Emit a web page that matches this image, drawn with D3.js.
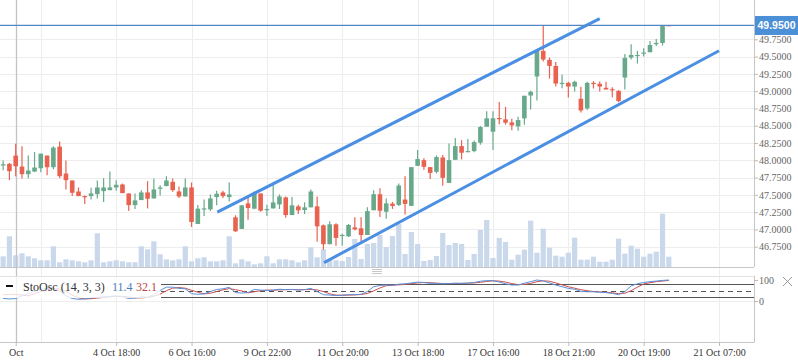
<!DOCTYPE html>
<html>
<head>
<meta charset="utf-8">
<script src="https://d3js.org/d3.v7.min.js"></script>
<style>
  body { margin: 0; background: #fff; }
  svg { display: block; }
  .axis text { font-family: "Liberation Serif", serif; font-size: 10px; }
</style>
</head>
<body>
<div id="chart"></div>
<script>
// candle data (index based, left to right)
var opens = [47.94,47.948,48.068,47.909,47.799,47.837,47.885,48.068,47.9,48.197,
  47.808,47.708,47.549,47.482,47.482,47.511,47.554,47.568,47.607,47.65,
  47.52,47.352,47.424,47.535,47.448,47.588,47.626,47.688,47.549,47.477,
  47.607,47.079,47.295,47.29,47.468,47.535,47.468,47.175,47.007,47.376,
  47.3,47.52,47.292,47.304,47.362,47.463,47.208,47.333,47.28,47.319,
  47.333,47.06,46.786,47.074,46.917,46.9,47.03,47.016,46.919,47.277,
  47.509,47.256,47.373,47.354,47.432,47.34,47.92,48.002,47.901,47.833,
  48.041,47.673,48.007,48.205,48.123,48.133,48.254,48.486,48.413,48.612,
  48.592,48.548,48.49,48.606,48.937,49.212,49.582,49.452,49.365,49.11,
  49.12,49.067,48.89,48.75,49.12,49.106,49.048,49.029,49.005,49.197,
  49.486,49.514,49.543,49.563,49.683,49.697,49.955];
var highs = [47.996,47.962,48.24,48.202,48.068,48.12,48.096,48.068,48.202,48.27,
  47.996,47.708,47.607,47.492,47.602,47.708,47.741,47.837,47.712,47.664,
  47.52,47.52,47.568,47.698,47.736,47.64,47.77,47.736,47.621,47.736,
  47.679,47.352,47.434,47.506,47.559,47.559,47.679,47.204,47.348,47.472,
  47.549,47.52,47.357,47.655,47.506,47.477,47.468,47.357,47.391,47.578,
  47.477,47.07,47.117,47.088,46.938,47.079,47.175,47.175,47.32,47.567,
  47.596,47.446,47.398,47.664,47.77,47.901,48.147,48.031,47.901,48.07,
  48.075,48.244,48.321,48.292,48.307,48.287,48.495,48.708,48.708,48.844,
  48.771,48.601,48.63,48.933,49.005,49.601,49.95,49.486,49.423,49.236,
  49.135,49.149,49.062,49.135,49.144,49.14,49.135,49.058,49.014,49.538,
  49.678,49.582,49.62,49.726,49.755,49.95,49.955];
var lows = [47.856,47.712,47.77,47.736,47.741,47.828,47.828,47.784,47.871,47.741,
  47.578,47.482,47.482,47.367,47.434,47.448,47.396,47.568,47.559,47.525,
  47.266,47.295,47.424,47.304,47.448,47.492,47.626,47.544,47.453,47.477,
  47.036,47.079,47.194,47.266,47.348,47.453,47.405,46.964,47.007,47.141,
  47.29,47.256,47.194,47.304,47.295,47.17,47.208,47.223,47.223,47.319,
  46.82,46.704,46.786,46.762,46.764,46.89,46.987,46.827,46.919,47.277,
  47.18,47.156,47.296,47.34,47.214,47.34,47.92,47.862,47.731,47.809,
  47.63,47.673,48.007,48.012,48.123,48.118,48.225,48.486,48.147,48.52,
  48.514,48.433,48.428,48.514,48.736,48.865,49.428,49.183,49.067,49.043,
  48.909,48.995,48.692,48.726,49.038,48.995,49.024,48.913,48.841,49.024,
  49.457,49.399,49.5,49.563,49.654,49.659,49.95];
var closes = [47.942,47.842,47.914,47.799,47.852,47.895,48.096,47.9,48.183,47.77,
  47.712,47.53,47.482,47.468,47.52,47.607,47.607,47.607,47.645,47.525,
  47.352,47.42,47.535,47.444,47.578,47.607,47.708,47.568,47.477,47.607,
  47.108,47.3,47.304,47.448,47.516,47.482,47.506,46.973,47.348,47.309,
  47.53,47.271,47.295,47.391,47.477,47.208,47.348,47.276,47.319,47.549,
  47.045,46.786,47.074,46.877,46.921,47.064,47.0,46.919,47.265,47.509,
  47.27,47.377,47.34,47.635,47.369,47.901,48.017,47.905,47.818,48.046,
  47.746,48.002,48.205,48.109,48.133,48.263,48.481,48.607,48.607,48.602,
  48.544,48.505,48.582,48.933,48.99,49.582,49.457,49.365,49.11,49.12,
  49.067,49.135,48.721,49.12,49.11,49.067,49.024,49.014,48.856,49.481,
  49.524,49.524,49.558,49.668,49.697,49.942,49.95];
var volumes = [1070,3070,1170,1370,1070,870,670,670,2070,470,
  770,670,570,470,670,3370,470,570,670,570,
  470,470,2070,1770,2570,1270,770,670,770,2070,
  570,870,970,570,570,670,3070,370,770,570,
  270,370,1070,370,770,770,670,470,670,1970,
  970,1770,670,670,600,1000,2800,800,2300,2400,
  3200,2000,3100,4330,1300,3500,2300,600,700,1100,
  3400,2200,2400,2300,700,1300,3700,4700,900,2900,
  2500,730,1230,1730,4630,1430,3830,1930,1130,1030,
  1430,2930,730,730,1030,530,530,730,2830,1330,
  2130,1830,1030,1330,1530,5330,1030];
// stochastic oscillator %K and %D
var stochK = [12,10,11.4,25,35,45,55,60,62,48,
  25,12,8,10,14,18,20,22,24,20,
  12,14,20,18,30,50,66,66,60,58,
  35,32,34,45,55,58,65,40,38,40,
  55,52,50,52,56,54,55,52,54,60,
  45,30,28,26,28,30,30,32,45,68,
  74,76,75,80,82,86,90,88,84,84,
  82,83,85,84,85,88,94,97,97,90,
  82,76,76,85,92,100,96,86,76,68,
  60,56,46,44,44,42,40,36,30,45,
  72,82,88,92,95,98,100];
var stochD = [30,31,32.1,28,24,35,45,53,59,57,
  45,28,15,10,11,14,17,20,22,22,
  19,15,15,17,23,33,49,61,64,61,
  51,42,34,37,45,53,59,54,48,39,
  44,49,52,51,53,54,55,54,54,55,
  53,45,34,28,27,28,29,31,36,48,
  62,73,75,77,79,83,86,88,87,85,
  83,83,83,84,85,86,89,93,96,95,
  90,83,78,79,84,92,96,94,86,77,
  68,61,54,49,45,43,42,39,35,37,
  49,66,81,87,92,95,98];

var priceTicks = [46.75,47.0,47.25,47.5,47.75,48.0,48.25,48.5,48.75,49.0,49.25,49.5,49.75];
var timeTickIdx = [2,18,30,42,54,66,78,90,102,114];
var timeTickLabels = ["Oct","4 Oct 18:00","6 Oct 16:00","9 Oct 22:00","11 Oct 20:00",
  "13 Oct 18:00","17 Oct 16:00","18 Oct 21:00","20 Oct 19:00","21 Oct 07:00"];
var gridIdx = [6,18,30,42,54,66,78,90,102,114];
var lastPrice = 49.95;
var crossIdx = 2;
var legendK = 11.4, legendD = 32.1;
// drawn trend lines [index, price]
var upperTrend = [[34.1, 47.25],[95.0, 50.05]];
var lowerTrend = [[51.1, 46.52],[114.0, 49.585]];

var W = 798, H = 363, plotR = 754;
var mainBottom = 267, oscTop = 276, oscBottom = 342;

var svg = d3.select("#chart").append("svg").attr("width", W).attr("height", H);

var x = d3.scaleLinear().domain([-0.5, 119.5]).range([0, 753.6]);
var y = d3.scaleLinear().domain([46.75, 49.75]).range([246.7, 39.3]);
var yv = d3.scaleLinear().domain([0, 6000]).range([mainBottom, mainBottom - 60]);
var yo = d3.scaleLinear().domain([0, 100]).range([301, 280]);

// grid
svg.append("g").selectAll("line").data(priceTicks).enter().append("line")
  .attr("x1", 0).attr("x2", plotR)
  .attr("y1", function(d){ return Math.round(y(d)) + 0.5; })
  .attr("y2", function(d){ return Math.round(y(d)) + 0.5; })
  .attr("stroke", "#ededed");
svg.append("g").selectAll("line").data(gridIdx).enter().append("line")
  .attr("x1", function(d){ return Math.round(x(d)) + 0.5; })
  .attr("x2", function(d){ return Math.round(x(d)) + 0.5; })
  .attr("y1", 0).attr("y2", oscBottom)
  .attr("stroke", "#ededed");
svg.append("line")
  .attr("x1", 0).attr("x2", plotR)
  .attr("y1", Math.round(yo(0)) + 0.5).attr("y2", Math.round(yo(0)) + 0.5)
  .attr("stroke", "#ededed");

// volume
var idx = d3.range(opens.length);
svg.append("g").selectAll("rect").data(idx).enter().append("rect")
  .attr("x", function(i){ return x(i) - 2.6; })
  .attr("width", 5.2)
  .attr("y", function(i){ return yv(volumes[i]); })
  .attr("height", function(i){ return mainBottom - yv(volumes[i]); })
  .attr("fill", "#cad8eb");

// crosshair-like month line
svg.append("line")
  .attr("x1", Math.round(x(crossIdx)) + 0.5).attr("x2", Math.round(x(crossIdx)) + 0.5)
  .attr("y1", 0).attr("y2", oscBottom)
  .attr("stroke", "#c4c4c4").attr("stroke-width", 1.3);

// candles
var green = "#68a98b", red = "#e9614f";
function col(i){ return closes[i] >= opens[i] ? green : red; }
var candles = svg.append("g");
candles.selectAll("line").data(idx).enter().append("line")
  .attr("x1", function(i){ return x(i); }).attr("x2", function(i){ return x(i); })
  .attr("y1", function(i){ return y(highs[i]); })
  .attr("y2", function(i){ return y(lows[i]); })
  .attr("stroke", col).attr("stroke-width", 1.2);
candles.selectAll("rect").data(idx).enter().append("rect")
  .attr("x", function(i){ return x(i) - 2.3; })
  .attr("width", 4.6)
  .attr("y", function(i){ return y(Math.max(opens[i], closes[i])); })
  .attr("height", function(i){ return Math.max(1.2, Math.abs(y(opens[i]) - y(closes[i]))); })
  .attr("fill", col);

// trend lines
[upperTrend, lowerTrend].forEach(function(t){
  svg.append("line")
    .attr("x1", x(t[0][0])).attr("y1", y(t[0][1]))
    .attr("x2", x(t[1][0])).attr("y2", y(t[1][1]))
    .attr("stroke", "#4a8fe3").attr("stroke-width", 3);
});

// last price line
svg.append("line")
  .attr("x1", 0).attr("x2", plotR)
  .attr("y1", y(lastPrice)).attr("y2", y(lastPrice))
  .attr("stroke", "#5089c6").attr("stroke-width", 1.2);

// panel borders
svg.append("line").attr("x1", plotR + 0.5).attr("x2", plotR + 0.5).attr("y1", 0).attr("y2", mainBottom)
  .attr("stroke", "#c6c6c6");
svg.append("line").attr("x1", 0).attr("x2", plotR).attr("y1", mainBottom + 0.5).attr("y2", mainBottom + 0.5)
  .attr("stroke", "#c6c6c6");
svg.append("line").attr("x1", 0).attr("x2", plotR).attr("y1", oscTop + 0.5).attr("y2", oscTop + 0.5)
  .attr("stroke", "#e2e2e2");
svg.append("line").attr("x1", plotR + 0.5).attr("x2", plotR + 0.5).attr("y1", oscTop).attr("y2", oscBottom)
  .attr("stroke", "#c6c6c6");

// price axis
var yAxis = svg.append("g").attr("class", "axis").attr("transform", "translate(" + plotR + ",0)")
  .call(d3.axisRight(y).tickValues(priceTicks).tickFormat(d3.format(".4f")).tickSize(4).tickPadding(1));
yAxis.select(".domain").remove();
yAxis.selectAll("line").attr("stroke", "#bbb");
yAxis.selectAll("text").attr("fill", "#666");

// last price label
svg.append("rect").attr("x", 755).attr("y", y(lastPrice) - 9.5).attr("width", 43).attr("height", 19)
  .attr("fill", "#4b8fd7");
svg.append("text").attr("x", 776.5).attr("y", y(lastPrice) + 4)
  .attr("text-anchor", "middle").attr("fill", "#fff")
  .style("font-family", "Liberation Sans, sans-serif").style("font-size", "10.5px").style("font-weight", "bold")
  .text(d3.format(".4f")(lastPrice));

// grip icon between panels
[269, 271, 273].forEach(function(gy){
  svg.append("line").attr("x1", 372).attr("x2", 382).attr("y1", gy + 0.5).attr("y2", gy + 0.5)
    .attr("stroke", "#c8c8c8");
});

// oscillator bands
[80, 20].forEach(function(v){
  svg.append("line").attr("x1", 161).attr("x2", plotR)
    .attr("y1", Math.round(yo(v)) + 0.5).attr("y2", Math.round(yo(v)) + 0.5)
    .attr("stroke", "#555");
});
svg.append("line").attr("x1", 161).attr("x2", plotR)
  .attr("y1", Math.round(yo(50)) + 0.5).attr("y2", Math.round(yo(50)) + 0.5)
  .attr("stroke", "#555").attr("stroke-dasharray", "5,4");

var stLine = d3.line().x(function(d, i){ return x(i); }).y(function(d){ return yo(d); });
svg.append("path").datum(stochD).attr("d", stLine)
  .attr("fill", "none").attr("stroke", "#c9514d").attr("stroke-width", 1);
svg.append("path").datum(stochK).attr("d", stLine)
  .attr("fill", "none").attr("stroke", "#5a8fd8").attr("stroke-width", 1);

// legend
svg.append("rect").attr("x", 0).attr("y", 277).attr("width", 160).attr("height", 21)
  .attr("fill", "#fff").attr("opacity", 0.78);
svg.append("rect").attr("x", 6).attr("y", 285).attr("width", 7).attr("height", 2).attr("fill", "#111");
var leg = svg.append("text").attr("y", 291)
  .style("font-family", "Liberation Serif, serif").style("font-size", "12px");
leg.append("tspan").attr("x", 23).attr("fill", "#333").text("StoOsc (14, 3, 3)");
leg.append("tspan").attr("x", 112).attr("fill", "#4f7cb8").text(legendK);
leg.append("tspan").attr("x", 136).attr("fill", "#b8463f").text(legendD);

// oscillator axis
var oAxis = svg.append("g").attr("class", "axis").attr("transform", "translate(" + plotR + ",0)")
  .call(d3.axisRight(yo).tickValues([0, 100]).tickSize(4).tickPadding(1));
oAxis.select(".domain").remove();
oAxis.selectAll("line").attr("stroke", "#bbb");
oAxis.selectAll("text").attr("fill", "#666");

// close icon
svg.append("path").attr("d", "M783,277 L792,286 M792,277 L783,286")
  .attr("stroke", "#999").attr("stroke-width", 1).attr("fill", "none");

// time axis
var xAxis = svg.append("g").attr("class", "axis").attr("transform", "translate(0," + oscBottom + ")")
  .call(d3.axisBottom(x).tickValues(timeTickIdx)
    .tickFormat(function(d, i){ return timeTickLabels[i]; }).tickSize(4).tickPadding(3));
xAxis.select(".domain").attr("d", "M0,0.5H" + (plotR + 0.5)).attr("stroke", "#c6c6c6");
xAxis.selectAll("line").attr("stroke", "#bbb");
xAxis.selectAll("text").attr("fill", "#333");
</script>
</body>
</html>
